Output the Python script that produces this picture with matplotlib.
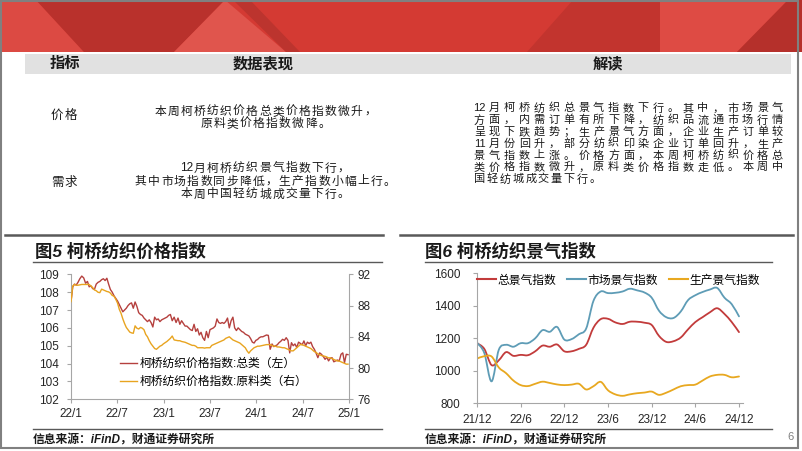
import re
import numpy as np
import pandas as pd
import matplotlib
matplotlib.use('Agg')
import matplotlib.pyplot as plt
from matplotlib.path import Path
from matplotlib.patches import PathPatch, Polygon, Rectangle
from matplotlib.lines import Line2D

plt.rcParams['font.family'] = ['Liberation Sans', 'Noto Sans CJK SC']

# ---------------- data ----------------
# 图5 柯桥纺织价格指数, weekly from 2022-01
price_total = [
    107.45, 108.3, 108.45, 108.4,
    108.55, 108.75, 108.9, 108.8,
    108.5, 108.6, 108.3, 108.35, 108.2,
    108.15, 108.45, 108.55, 108.6,
    108.7, 108.75, 108.65, 108.78,
    108.45, 108.15, 108.0, 107.8, 107.65,
    107.5, 107.3, 107.1, 106.9,
    107.0, 107.1, 107.25, 107.35,
    107.4, 107.1, 107.45, 107.2, 106.85,
    106.75, 106.7, 106.55, 106.45,
    106.35, 106.45, 106.3, 106.05,
    106.6, 106.45, 106.5, 106.35, 106.45,
    106.5, 106.55, 106.6, 106.7,
    106.75, 106.4, 106.6, 106.3,
    106.55, 106.2, 106.4, 106.25, 106.1,
    106.1, 106.0, 105.9, 105.85,
    106.2, 105.8, 105.95, 105.6,
    105.75, 105.45, 105.3, 105.8, 105.45,
    105.9, 105.95, 106.0, 106.1,
    106.5, 106.3, 106.25, 106.3,
    106.25, 106.35, 106.55, 106.0, 106.4,
    106.6, 106.0, 105.85, 106.0,
    105.9, 105.8, 105.75, 105.65,
    105.6, 105.55, 105.4, 105.2, 105.15,
    105.3, 105.35, 105.45, 105.5,
    105.5, 105.55, 105.6, 105.58,
    104.8, 105.1, 104.95, 105.0, 105.05,
    105.17, 105.25, 105.36, 105.3,
    105.45, 105.3, 104.6, 105.17,
    105.0, 105.1, 104.9, 105.2, 105.13,
    105.05, 105.27, 105.0, 105.2,
    105.12, 105.2, 104.95, 104.8,
    104.58, 104.33, 104.6, 104.52, 104.4,
    104.24, 104.35, 104.15, 104.3,
    104.33, 104.1, 104.15, 104.2,
    104.15, 104.52, 104.6, 104.05, 104.52,
    104.5,
]
price_raw = [
    88.5, 90.5, 90.7, 90.6,
    90.6, 90.65, 90.7, 90.7,
    90.7, 90.7, 90.7, 90.5, 90.3,
    90.0, 89.9, 89.7, 89.65,
    90.1, 90.0, 89.9, 89.8,
    89.75, 89.6, 89.3, 89.2, 88.8,
    88.3, 87.5, 87.0, 86.3,
    85.7, 85.2, 84.9, 84.6,
    84.5, 84.45, 85.4, 85.1, 85.0,
    85.2, 85.1, 84.9, 84.3,
    84.0, 83.5, 83.1, 82.8,
    82.5, 82.4, 82.6, 82.8, 82.9,
    83.1, 83.25, 83.4, 83.6,
    83.8, 84.1, 83.6, 83.55,
    83.5, 83.5, 83.4, 83.35, 83.3,
    83.2, 83.1, 83.0, 82.9,
    82.9, 82.8, 82.6, 82.6,
    82.6, 82.6, 82.55, 82.6, 82.6,
    82.6, 82.9, 83.0, 83.1,
    83.2, 83.3, 83.4, 83.5,
    83.6, 83.8, 83.9, 84.0, 83.8,
    83.6, 83.5, 83.4, 83.3,
    83.2, 83.0, 82.8, 82.6,
    82.2, 81.9, 82.2, 82.4, 82.6,
    82.7, 82.8, 82.8, 82.85,
    82.9, 82.95, 83.0, 83.0,
    83.0, 82.9, 82.8, 82.8, 82.7,
    82.7, 82.65, 82.6, 82.6,
    82.5, 82.4, 82.3, 82.2,
    82.2, 82.4, 82.6, 82.8, 83.0,
    83.0, 82.9, 82.8, 82.7,
    82.6, 82.5, 82.3, 82.1,
    82.0, 81.8, 81.7, 81.6, 81.55,
    81.5, 81.4, 81.3, 81.3,
    81.2, 81.1, 81.0, 80.9,
    80.9, 80.8, 80.7, 80.6, 80.5,
    80.5,
]
price_labels = ['柯桥纺织价格指数:总类（左）', '柯桥纺织价格指数:原料类（右）']
price_ticks = ['22/1', '22/7', '23/1', '23/7', '24/1', '24/7', '25/1']

# 图6 柯桥纺织景气指数, monthly 2021-12 .. 2024-12
boom_total = [1170, 1135, 1035, 1065, 1115, 1092, 1098, 1096, 1120, 1155,
              1148, 1162, 1120, 1120, 1135, 1160, 1265, 1318, 1320, 1298,
              1288, 1302, 1302, 1296, 1282, 1215, 1178, 1182, 1205, 1255,
              1300, 1330, 1360, 1385, 1350, 1300, 1238]
boom_market = [1173, 1110, 935, 1130, 1160, 1148, 1170, 1170, 1200, 1250,
               1240, 1270, 1192, 1195, 1225, 1260, 1430, 1488, 1478, 1480,
               1488, 1505, 1495, 1482, 1450, 1370, 1330, 1325, 1365, 1435,
               1465, 1485, 1500, 1510, 1450, 1410, 1335]
boom_prod = [1075, 1090, 1088, 1020, 985, 940, 912, 906, 920, 933,
             925, 916, 912, 915, 920, 885, 905, 932, 880, 855,
             846, 855, 862, 866, 872, 852, 865, 885, 905, 912,
             915, 940, 965, 975, 975, 960, 965]
boom_labels = ['总景气指数', '市场景气指数', '生产景气指数']
boom_ticks = ['21/12', '22/6', '22/12', '23/6', '23/12', '24/6', '24/12']

# ---------------- figure ----------------
W, H = 802, 451
fig = plt.figure(figsize=(W / 100, H / 100), dpi=100)


def fx(x):
    return x / W


def fy(y):
    return 1 - y / H


def poly(pts, color):
    fig.add_artist(Polygon([[fx(a), fy(b)] for a, b in pts], closed=True,
                           transform=fig.transFigure, facecolor=color,
                           edgecolor='none', zorder=0))


def hline(x0, x1, y, lw=1.0, color='#595959'):
    fig.add_artist(Line2D([fx(x0), fx(x1)], [fy(y), fy(y)], transform=fig.transFigure,
                          color=color, lw=lw))


def spaced(x, y, s, pitch, size, center=False, **kw):
    # draw a line of text token by token with a fixed pitch (justified look)
    toks = re.findall(r'[0-9A-Za-z]+|.', s)
    if center:
        x0 = x - (len(toks) - 1) * pitch / 2
    else:
        x0 = x
    for i, t in enumerate(toks):
        fig.text(fx(x0 + i * pitch), fy(y), t, ha='center', va='center',
                 size=size, **kw)


# red banner
poly([(0, 0), (802, 0), (802, 52), (0, 52)], '#D43A33')
poly([(0, 0), (36, 0), (84, 52), (0, 52)], '#DC4A43')
poly([(36, 0), (225, 0), (174, 52), (84, 52)], '#B9312C')
poly([(225, 0), (174, 52), (286, 52)], '#E0554D')
poly([(233, 0), (250, 0), (300, 52), (286, 52)], '#BC342E')
poly([(573, 0), (660, 0), (660, 52), (527, 52)], '#C2342E')
poly([(660, 0), (788, 0), (737, 52), (660, 52)], '#DE4B44')
poly([(788, 0), (802, 0), (802, 52), (737, 52)], '#B5302B')

# slide frame
fig.add_artist(Rectangle((fx(1), fy(448)), fx(797), 447 / H, transform=fig.transFigure,
                         fill=False, edgecolor='#808080', lw=1.5, zorder=5))

# ---------------- table ----------------
fig.add_artist(Rectangle((fx(25), fy(74)), fx(766), 20 / H, transform=fig.transFigure,
                         facecolor='#E1E1E1', edgecolor='none'))
for cx, t in [(65, '指标'), (263, '数据表现'), (608, '解读')]:
    fig.text(fx(cx), fy(64), t, ha='center', va='center', size=11,
             weight='bold', color='#1a1a1a')

body = dict(color='#1a1a1a')
spaced(64, 116, '价格', 14, 9, center=True, **body)
spaced(64, 183, '需求', 14, 9, center=True, **body)

left_rows = [
    (112, '本周柯桥纺织价格总类价格指数微升，'),
    (124, '原料类价格指数微降。'),
    (168.5, '12月柯桥纺织景气指数下行，'),
    (181.5, '其中市场指数同步降低，生产指数小幅上行。'),
    (194.5, '本周中国轻纺城成交量下行。'),
]
for yy, s in left_rows:
    spaced(265, yy, s, 13.1, 8.5, center=True, **body)

right_rows = [
    '12月柯桥纺织总景气指数下行。其中，市场景气',
    '方面，内需订单有所下降，纺织品流通市场行情',
    '呈现下跌趋势；生产景气方面，企业生产订单较',
    '11月份回升，部分纺织印染企业订单回升，生产',
    '景气指数上涨。价格方面，本周柯桥纺织价格总',
    '类价格指数微升，原料类价格指数走低。本周中',
    '国轻纺城成交量下行。',
]
for i, s in enumerate(right_rows):
    pitch = 14.9 if i < len(right_rows) - 1 else 12.8
    spaced(479.5, 108.3 + i * 11.8, s, pitch, 8, **body)

# ---------------- panel frames ----------------
hline(5, 383, 235, lw=1.8)
hline(400, 793, 235, lw=1.8)
hline(33, 382, 262)
hline(425, 772, 262)
hline(33, 382, 429)
hline(425, 772, 429)
fig.text(fx(35), fy(251.5), '图5 柯桥纺织价格指数', ha='left', va='center', size=12.5,
         weight='bold', style='italic', color='#1a1a1a')
fig.text(fx(425), fy(251.5), '图6 柯桥纺织景气指数', ha='left', va='center', size=12.5,
         weight='bold', style='italic', color='#1a1a1a')
fig.text(fx(33), fy(441), '信息来源：iFinD，财通证券研究所', ha='left', va='center',
         size=8.5, weight='bold', style='italic', color='#1a1a1a')
fig.text(fx(425), fy(441), '信息来源：iFinD，财通证券研究所', ha='left', va='center',
         size=8.5, weight='bold', style='italic', color='#1a1a1a')
fig.text(fx(790), fy(437), '6', ha='center', va='center', size=8, color='#808080')

spine_c = '#A6A6A6'
lab_c = '#262626'


def style_axis(ax):
    for s in ax.spines.values():
        s.set_color(spine_c)
        s.set_linewidth(0.8)
    ax.spines['top'].set_visible(False)
    ax.tick_params(direction='out', length=3, width=0.8, color=spine_c,
                   labelsize=8.5, labelcolor=lab_c)
    ax.set_facecolor('none')


def tick_month(lbl, y0):
    yy, mm = lbl.split('/')
    return (2000 + int(yy) - y0) * 12 + int(mm) - 1


# ---------------- chart 5 ----------------
dates = pd.date_range('2022-01-01', periods=len(price_total), freq='7D')
pm = (dates.year - 2022) * 12 + dates.month - 1 + (dates.day - 1) / dates.days_in_month

ax1 = fig.add_axes([fx(71), fy(399.3), 278 / W, 125 / H])
ax1.plot(pm, price_total, color='#B5403E', lw=1.0)
ax1.set_xlim(0, 36)
ax1.set_ylim(102, 109)
ax1.set_yticks(range(102, 110))
ax1.set_xticks([tick_month(t, 2022) for t in price_ticks])
ax1.set_xticklabels(price_ticks)
style_axis(ax1)
ax1.spines['right'].set_visible(False)
ax1.tick_params(axis='y', pad=6)
ax1.tick_params(axis='x', pad=3.5)

ax1r = ax1.twinx()
ax1r.plot(pm, price_raw, color='#E8A420', lw=1.0)
ax1r.set_ylim(76, 92)
ax1r.set_yticks(range(76, 93, 4))
style_axis(ax1r)
ax1r.spines['left'].set_visible(False)
ax1r.spines['bottom'].set_visible(False)
ax1r.tick_params(axis='y', pad=3)

h5 = [Line2D([], [], color='#B5403E', lw=1.0), Line2D([], [], color='#E8A420', lw=1.0)]
ax1r.legend(h5, price_labels, loc='upper left', bbox_to_anchor=(0.175, 0.33),
            frameon=False, fontsize=8.5, handlelength=1.5, handletextpad=0.15,
            labelspacing=0.5, borderaxespad=0, borderpad=0)

# ---------------- chart 6 ----------------
months = pd.period_range('2021-12', periods=len(boom_total), freq='M')
mlab = [f'{p.year % 100}/{p.month}' for p in months]
bx = np.arange(len(mlab))

ax2 = fig.add_axes([fx(477), fy(403.3), 266 / W, 130 / H])


def smooth_path(x, y):
    p = np.column_stack([x, y]).astype(float)
    ext = np.vstack([p[0], p, p[-1]])
    verts = [p[0]]
    codes = [Path.MOVETO]
    for i in range(len(p) - 1):
        p0, p1, p2, p3 = ext[i], ext[i + 1], ext[i + 2], ext[i + 3]
        verts += [p1 + (p2 - p0) / 6, p2 - (p3 - p1) / 6, p2]
        codes += [Path.CURVE4] * 3
    return Path(verts, codes)


boom_colors = ['#C23B3B', '#5E9CB6', '#E8A820']
for vals, c in zip([boom_total, boom_market, boom_prod], boom_colors):
    ax2.add_patch(PathPatch(smooth_path(bx, vals), fill=False, edgecolor=c, lw=1.3,
                            capstyle='round', joinstyle='round'))
ax2.set_xlim(0, 36.55)
ax2.set_ylim(800, 1600)
ax2.set_yticks(range(800, 1601, 200))
ax2.set_xticks([mlab.index(t) for t in boom_ticks])
ax2.set_xticklabels(boom_ticks)
style_axis(ax2)
ax2.spines['right'].set_visible(False)
ax2.tick_params(axis='y', pad=9)
ax2.tick_params(axis='x', pad=5)
h6 = [Line2D([], [], color=c, lw=1.5) for c in boom_colors]
ax2.legend(h6, boom_labels, loc='upper left', bbox_to_anchor=(0.0, 0.99), ncol=3,
           frameon=False, fontsize=8.5, handlelength=1.6, handletextpad=0.15,
           columnspacing=0.9, borderaxespad=0, borderpad=0)

fig.savefig('out.png', dpi=100)
